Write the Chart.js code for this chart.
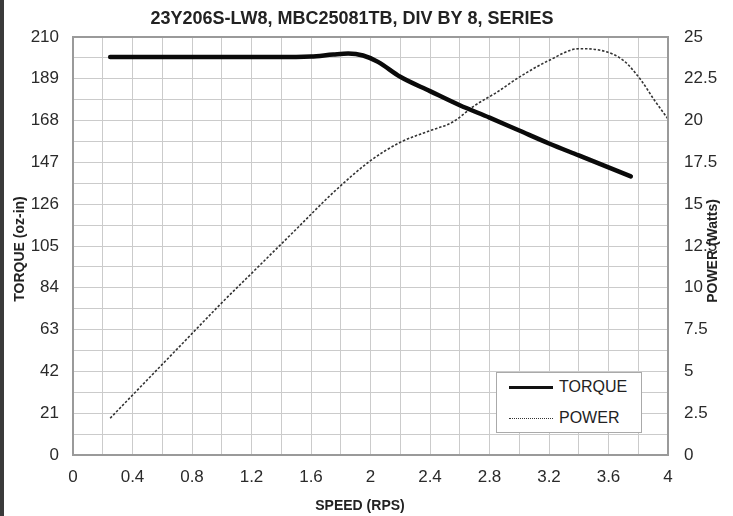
<!DOCTYPE html>
<html>
<head>
<meta charset="utf-8">
<script src="https://cdn.jsdelivr.net/npm/chart.js@4.4.1/dist/chart.umd.min.js"></script>
<style>
  html,body{margin:0;padding:0;background:#fff;}
  #wrap{position:relative;width:733px;height:516px;overflow:hidden;background:#fff;}
  #bar{position:absolute;left:0;top:0;width:4px;height:516px;background:#3a3a3a;}
  #legend{position:absolute;left:496px;top:372px;width:146px;height:61px;border:1px solid #aaa;background:#fff;
    font-family:"Liberation Sans",Arial,sans-serif;font-size:16px;color:#222;box-sizing:border-box;}
  .row{position:absolute;left:12px;height:20px;display:flex;align-items:center;}
  .ln{width:44px;margin-right:6px;}
</style>
</head>
<body>
<div id="wrap">
  <canvas id="c" width="733" height="516"></canvas>
  <div id="bar"></div>
  <div id="legend">
    <div class="row" style="top:4px;"><div class="ln" style="border-top:3px solid #111;"></div><span>TORQUE</span></div>
    <div class="row" style="top:35px;"><div class="ln" style="border-top:1.5px dotted #333;"></div><span>POWER</span></div>
  </div>
</div>
<script>
const chartTitle = "23Y206S-LW8, MBC25081TB, DIV BY 8, SERIES";
const xTitle = "SPEED (RPS)";
const yTitle = "TORQUE (oz-in)";
const y2Title = "POWER (Watts)";

const torqueSpeed = [0.25, 0.5, 0.75, 1.0, 1.25, 1.5, 1.6, 1.75, 1.85, 1.95, 2.05, 2.2, 2.4, 2.6, 2.8, 3.0, 3.2, 3.4, 3.6, 3.75];
const torqueVals  = [200, 200, 200, 200, 200, 200, 200.2, 201.2, 201.7, 200.7, 197.5, 190, 182.8, 175.7, 169.5, 163, 156.5, 150.5, 144.5, 140];

const powerSpeed = [0.25, 0.5, 0.75, 1.0, 1.25, 1.5, 1.75, 2.0, 2.2, 2.4, 2.55, 2.7, 2.85, 3.0, 3.2, 3.4, 3.55, 3.7, 3.82, 3.91, 4.0];
const powerVals  = [2.2, 4.5, 6.8, 9.1, 11.3, 13.5, 15.7, 17.6, 18.7, 19.4, 19.9, 20.9, 21.7, 22.6, 23.6, 24.3, 24.2, 23.6, 22.4, 21.2, 20.1];

const xMin = 0, xMax = 4, xStep = 0.2, xLabelStep = 0.4;
const yMin = 0, yMax = 210, yStep = 10.5, yLabelStep = 21;
const y2Min = 0, y2Max = 25, y2Step = 1.25, y2LabelStep = 2.5;

const FONT = '"Liberation Sans", Arial, sans-serif';

function isMult(v, s){ const r = v / s; return Math.abs(r - Math.round(r)) < 1e-6; }
function fmt(v){ return String(Math.round(v*100)/100); }

const decor = {
  id: 'decor',
  afterDraw(chart){
    const {ctx, chartArea: a} = chart;
    ctx.save();
    ctx.strokeStyle = '#9a9a9a';
    ctx.lineWidth = 2;
    ctx.strokeRect(a.left, a.top, a.right - a.left, a.bottom - a.top);
    ctx.fillStyle = '#222';
    ctx.textAlign = 'center';
    ctx.textBaseline = 'middle';
    ctx.font = 'bold 18px ' + FONT;
    ctx.fillText(chartTitle, 352, 19);
    ctx.font = 'bold 14px ' + FONT;
    ctx.fillText(xTitle, 360, 506);
    ctx.save();
    ctx.translate(20, 249);
    ctx.rotate(-Math.PI/2);
    ctx.font = 'bold 14px ' + FONT;
    ctx.fillText(yTitle, 0, 0);
    ctx.restore();
    ctx.save();
    ctx.translate(713, 251);
    ctx.rotate(-Math.PI/2);
    ctx.font = 'bold 14px ' + FONT;
    ctx.fillText(y2Title, 0, 0);
    ctx.restore();
    ctx.restore();
  }
};

new Chart(document.getElementById('c'), {
  type: 'scatter',
  data: {
    datasets: [
      {
        label: 'TORQUE',
        data: torqueSpeed.map((s,i)=>({x:s, y:torqueVals[i]})),
        yAxisID: 'y',
        showLine: true,
        borderColor: '#0a0a0a',
        borderWidth: 4.5,
        pointRadius: 0,
        cubicInterpolationMode: 'monotone',
        borderCapStyle: 'round'
      },
      {
        label: 'POWER',
        data: powerSpeed.map((s,i)=>({x:s, y:powerVals[i]})),
        yAxisID: 'y2',
        showLine: true,
        borderColor: '#333',
        borderWidth: 1.6,
        borderDash: [2.5, 1.8],
        pointRadius: 0,
        cubicInterpolationMode: 'monotone'
      }
    ]
  },
  options: {
    responsive: false,
    animation: false,
    devicePixelRatio: 1,
    layout: { padding: { top: 37, left: 0, right: 0, bottom: 0 } },
    plugins: { legend: { display: false }, tooltip: { enabled: false }, title: { display: false } },
    scales: {
      x: {
        type: 'linear', min: xMin, max: xMax,
        afterFit(s){ s.height = 61; },
        grid: { color: '#cbcbcb', lineWidth: 1, drawTicks: false },
        border: { display: false },
        ticks: {
          stepSize: xStep, autoSkip: false, maxRotation: 0, padding: 12,
          color: '#2a2a2a', font: { family: FONT, size: 17 },
          callback: v => isMult(v, xLabelStep) ? fmt(v) : ''
        }
      },
      y: {
        type: 'linear', position: 'left', min: yMin, max: yMax,
        afterFit(s){ s.width = 73; },
        grid: { color: '#cbcbcb', lineWidth: 1, drawTicks: false },
        border: { display: false },
        ticks: {
          stepSize: yStep, autoSkip: false, padding: 14,
          color: '#2a2a2a', font: { family: FONT, size: 17 },
          callback: v => isMult(v, yLabelStep) ? fmt(v) : ''
        }
      },
      y2: {
        type: 'linear', position: 'right', min: y2Min, max: y2Max,
        afterFit(s){ s.width = 65; },
        grid: { display: false, drawTicks: false },
        border: { display: false },
        ticks: {
          stepSize: y2Step, autoSkip: false, padding: 16,
          color: '#2a2a2a', font: { family: FONT, size: 17 },
          callback: v => isMult(v, y2LabelStep) ? fmt(v) : ''
        }
      }
    }
  },
  plugins: [decor]
});
</script>
</body>
</html>
